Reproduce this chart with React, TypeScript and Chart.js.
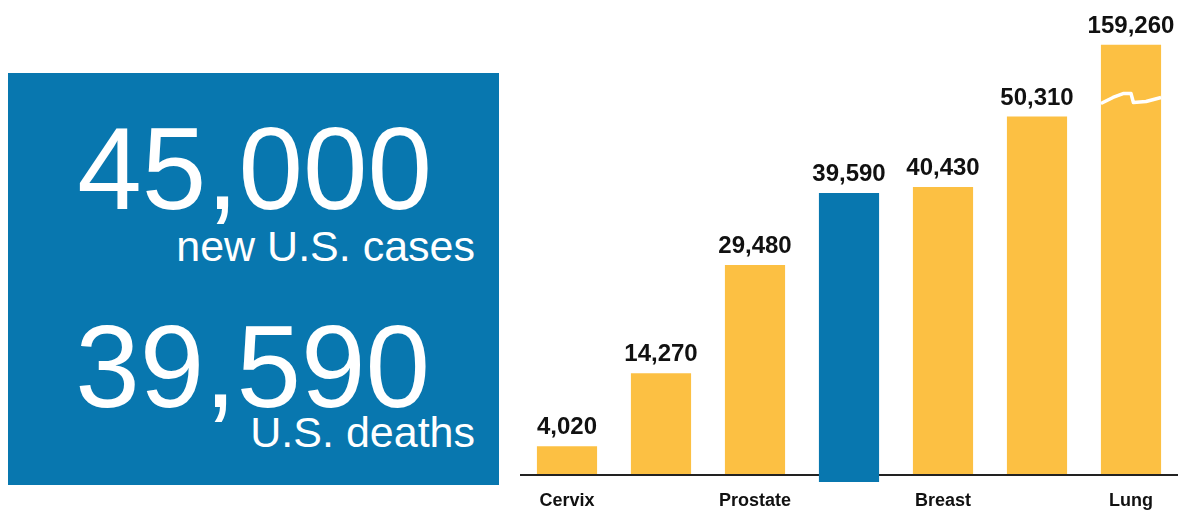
import React, { useEffect, useRef } from "react";
import { Chart, registerables } from "chart.js";

Chart.register(...registerables);

// ---- data ----
const tickLabels = ["Cervix", "", "Prostate", "", "Breast", "", "Lung"];
const deaths = [4020, 14270, 29480, 39590, 40430, 50310, 159260];
const highlightIndex = 3; // the featured cancer (blue bar)
const axisBreakValue = 60400; // bars above this are drawn broken at this height
const breakMarkValue = 53000; // where the break mark crosses the broken bar
const highlightDip = 1000; // featured bar dips below the baseline
const yMin = -1000;
const yMax = 65000;

const headlineCases = "45,000";
const headlineCasesText = "new U.S. cases";
const headlineDeaths = "39,590";
const headlineDeathsText = "U.S. deaths";

const YELLOW = "#FCC043";
const BLUE = "#0877AF";

const fmt = (v: number) => v.toLocaleString("en-US");

export default function App() {
  const ref = useRef<HTMLCanvasElement | null>(null);

  useEffect(() => {
    if (!ref.current) return;
    const plotted = deaths.map((v, i) => {
      const top = Math.min(v, axisBreakValue);
      const bottom = i === highlightIndex ? -highlightDip : 0;
      return [bottom, top];
    });

    const labelsPlugin = {
      id: "valueLabels",
      afterDatasetsDraw(chart: any) {
        const ctx = chart.ctx;
        const meta = chart.getDatasetMeta(0);
        const yScale = chart.scales.y;
        ctx.save();
        // break marks
        meta.data.forEach((bar: any, i: number) => {
          if (deaths[i] > axisBreakValue) {
            const yb = yScale.getPixelForValue(breakMarkValue);
            const left = bar.x - bar.width / 2;
            const w = bar.width;
            const pts = [
              [0, 6], [0.2, 0], [0.38, -4], [0.5, -4], [0.54, 5], [0.75, 4], [1, 0],
            ];
            ctx.strokeStyle = "#ffffff";
            ctx.lineWidth = 3.5;
            ctx.lineJoin = "round";
            ctx.beginPath();
            pts.forEach(([fx, dy], k) => {
              const x = left + fx * w;
              const y = yb + dy;
              if (k === 0) ctx.moveTo(x, y);
              else ctx.lineTo(x, y);
            });
            ctx.stroke();
          }
        });
        ctx.fillStyle = "#111111";
        ctx.font = "bold 24px 'Liberation Sans', Arial, sans-serif";
        ctx.textAlign = "center";
        ctx.textBaseline = "alphabetic";
        meta.data.forEach((bar: any, i: number) => {
          ctx.fillText(fmt(deaths[i]), bar.x, bar.y - 12);
        });
        ctx.restore();
      },
    };

    const chart = new Chart(ref.current, {
      type: "bar",
      data: {
        labels: tickLabels,
        datasets: [
          {
            data: plotted as any,
            backgroundColor: deaths.map((_, i) => (i === highlightIndex ? BLUE : YELLOW)),
            borderWidth: 0,
            borderSkipped: false,
            categoryPercentage: 0.8,
            barPercentage: 0.8,
          },
        ],
      },
      options: {
        animation: false,
        responsive: false,
        maintainAspectRatio: false,
        layout: { padding: { top: 12, right: 3, left: 0, bottom: 0 } },
        plugins: {
          legend: { display: false },
          tooltip: { enabled: false },
        },
        scales: {
          x: {
            grid: { display: false },
            border: { display: false },
            ticks: {
              color: "#111111",
              font: { family: "'Liberation Sans', Arial, sans-serif", size: 18, weight: "bold" },
              padding: 0,
              autoSkip: false,
              maxRotation: 0,
            },
            afterFit: (scale: any) => {
              scale.height = 29;
            },
          },
          y: {
            min: yMin,
            max: yMax,
            border: { display: false },
            ticks: { display: false },
            grid: {
              drawTicks: false,
              lineWidth: 2,
              color: (c: any) => (c.tick && c.tick.value === 0 ? "#222222" : "rgba(0,0,0,0)"),
            },
            afterBuildTicks: (scale: any) => {
              scale.ticks = [{ value: 0 }];
            },
            afterFit: (scale: any) => {
              scale.width = 0;
            },
          },
        },
      },
      plugins: [labelsPlugin],
    });
    return () => chart.destroy();
  }, []);

  const font = "'Liberation Sans', Arial, sans-serif";
  const textBase: React.CSSProperties = {
    position: "absolute",
    color: "#ffffff",
    fontFamily: font,
    lineHeight: 1,
    whiteSpace: "nowrap",
    textAlign: "right",
  };

  return (
    <div style={{ position: "fixed", left: 0, top: 0, width: 1181, height: 511, background: "#ffffff", overflow: "hidden" }}>
      <div style={{ position: "absolute", left: 8, top: 73, width: 491, height: 412, background: BLUE }} />
      <div style={{ ...textBase, left: 8, width: 424, top: 111, fontSize: 116 }}>{headlineCases}</div>
      <div style={{ ...textBase, left: 8, width: 467, top: 225, fontSize: 43 }}>{headlineCasesText}</div>
      <div style={{ ...textBase, left: 8, width: 422, top: 309, fontSize: 116 }}>{headlineDeaths}</div>
      <div style={{ ...textBase, left: 8, width: 467, top: 411, fontSize: 43 }}>{headlineDeathsText}</div>
      <canvas
        ref={ref}
        width={661}
        height={511}
        style={{ position: "absolute", left: 520, top: 0, width: 661, height: 511 }}
      />
    </div>
  );
}
